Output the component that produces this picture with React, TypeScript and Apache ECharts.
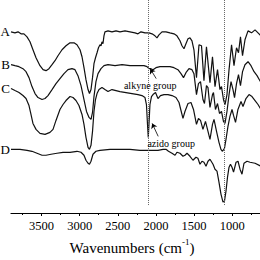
import React, { useEffect, useRef } from "react";
import * as echarts from "echarts";

const FONT = "Liberation Serif";

// Wavenumber (cm-1) vs transmittance (arbitrary units, curves offset)
const spectrumA: [number, number][] = [
  [3900, 182], [3848, 181], [3808, 182], [3769, 180], [3730, 180], [3690, 177], [3651, 172],
  [3612, 164], [3572, 156], [3520, 148], [3480, 144], [3441, 143], [3402, 145], [3362, 149],
  [3323, 153], [3284, 158], [3231, 164], [3179, 168], [3126, 171], [3074, 171], [3035, 169],
  [2995, 164], [2969, 157], [2943, 146], [2917, 134], [2890, 124], [2871, 120], [2851, 124],
  [2831, 136], [2812, 150], [2792, 156], [2772, 161], [2753, 166], [2733, 169], [2720, 168],
  [2707, 172], [2694, 170], [2681, 178], [2668, 182], [2628, 183], [2576, 182], [2523, 183],
  [2471, 182], [2405, 183], [2340, 182], [2274, 181], [2235, 180], [2196, 182], [2143, 181],
  [2091, 181], [2051, 180], [2012, 178], [1986, 176], [1960, 179], [1920, 182], [1868, 182],
  [1816, 181], [1763, 180], [1724, 178], [1684, 173], [1658, 168], [1632, 165], [1606, 170],
  [1579, 175], [1553, 176], [1527, 173], [1501, 164], [1468, 136], [1435, 169], [1402, 168],
  [1370, 133], [1337, 167], [1291, 131], [1258, 157], [1225, 127], [1192, 144], [1160, 124],
  [1140, 127], [1114, 114], [1094, 109], [1068, 119], [1041, 144], [1008, 169], [976, 148],
  [943, 166], [917, 161], [891, 177], [864, 158], [832, 174], [792, 183], [746, 181],
  [700, 184], [661, 181], [622, 178],
];

const spectrumB: [number, number][] = [
  [3900, 149], [3848, 148], [3795, 147], [3743, 145], [3703, 142], [3664, 136], [3625, 127],
  [3585, 120], [3546, 116], [3493, 114], [3454, 115], [3415, 118], [3362, 124], [3310, 130],
  [3258, 135], [3205, 140], [3153, 144], [3100, 145], [3061, 144], [3022, 138], [2982, 128],
  [2943, 114], [2910, 102], [2877, 96], [2851, 94], [2831, 101], [2812, 117], [2786, 132],
  [2759, 140], [2720, 145], [2681, 148], [2628, 149], [2536, 148], [2444, 149], [2340, 148],
  [2235, 148], [2156, 148], [2117, 147], [2091, 145], [2065, 145], [2038, 144], [1999, 146],
  [1946, 147], [1881, 147], [1816, 147], [1763, 146], [1711, 144], [1671, 140], [1638, 136],
  [1606, 141], [1566, 145], [1527, 144], [1501, 140], [1468, 119], [1442, 130], [1415, 132],
  [1383, 114], [1363, 110], [1337, 128], [1317, 126], [1291, 106], [1258, 119], [1245, 121],
  [1219, 104], [1192, 110], [1166, 100], [1140, 102], [1114, 92], [1094, 90], [1068, 102],
  [1041, 119], [1015, 132], [989, 124], [969, 116], [943, 130], [917, 139], [891, 128],
  [864, 142], [832, 149], [792, 152], [753, 148], [713, 142], [674, 138], [622, 131],
];

const spectrumC: [number, number][] = [
  [3900, 125], [3848, 123], [3795, 121], [3743, 118], [3703, 115], [3664, 108], [3638, 99],
  [3612, 90], [3572, 84], [3520, 80], [3454, 79], [3389, 81], [3349, 84], [3310, 93],
  [3258, 104], [3218, 109], [3179, 113], [3126, 117], [3087, 116], [3048, 113], [3009, 108],
  [2969, 99], [2943, 89], [2917, 76], [2890, 66], [2871, 64], [2851, 68], [2831, 82],
  [2812, 102], [2792, 114], [2772, 120], [2746, 124], [2707, 126], [2668, 124], [2628, 122],
  [2576, 124], [2523, 123], [2471, 122], [2392, 121], [2314, 120], [2235, 119], [2183, 118],
  [2143, 116], [2124, 109], [2110, 89], [2100, 76], [2091, 89], [2078, 109], [2058, 117],
  [2038, 119], [2005, 121], [1973, 115], [1940, 118], [1894, 119], [1842, 119], [1789, 118],
  [1737, 116], [1697, 111], [1671, 103], [1645, 95], [1619, 102], [1579, 110], [1540, 111],
  [1507, 104], [1468, 89], [1442, 95], [1415, 93], [1383, 84], [1350, 92], [1317, 82],
  [1291, 74], [1258, 89], [1238, 94], [1205, 82], [1173, 71], [1147, 64], [1127, 62],
  [1101, 65], [1081, 74], [1055, 87], [1029, 97], [1002, 104], [982, 98], [956, 91],
  [924, 104], [884, 112], [858, 107], [819, 115], [779, 119], [740, 117], [700, 113],
  [661, 109], [622, 104],
];

const spectrumD: [number, number][] = [
  [3900, 64], [3782, 64], [3690, 63], [3625, 62], [3559, 60], [3493, 58], [3441, 58],
  [3375, 59], [3297, 60], [3218, 61], [3126, 61], [3035, 62], [2982, 61], [2943, 58],
  [2917, 53], [2890, 50], [2871, 49], [2851, 52], [2825, 59], [2786, 62], [2733, 63],
  [2602, 64], [2471, 64], [2340, 64], [2209, 63], [2078, 63], [1973, 63], [1907, 64],
  [1868, 64], [1835, 62], [1789, 60], [1749, 58], [1724, 61], [1684, 60], [1645, 57],
  [1619, 58], [1592, 60], [1553, 57], [1514, 53], [1475, 56], [1449, 55], [1422, 49],
  [1396, 52], [1370, 51], [1343, 47], [1317, 52], [1291, 54], [1251, 49], [1225, 44],
  [1199, 42], [1173, 31], [1147, 19], [1120, 11], [1101, 12], [1081, 22], [1061, 36],
  [1041, 46], [1022, 49], [1002, 46], [982, 41], [949, 51], [923, 52], [897, 44],
  [871, 39], [845, 50], [805, 52], [766, 51], [700, 50], [622, 47],
];

const seriesNames = ["A", "B", "C", "D"];
const majorTicks = [1000, 1500, 2000, 2500, 3000, 3500];
const minorTicks = [750, 1250, 1750, 2250, 2750, 3250, 3750];
const markerLines = [2100, 1100];
const alkyneLabel = { text: "alkyne group", at: [2075, 128], arrow: [[1996, 135], [2075, 145]] };
const azidoLabel = { text: "azido group", at: [1800, 70], arrow: [[1970, 77], [2049, 90]] };

const X_MIN = 635;
const X_MAX = 3900;
const Y_MAX = 214;

export default function App() {
  const ref = useRef<HTMLDivElement>(null);
  useEffect(() => {
    if (!ref.current) return;
    const chart = echarts.init(ref.current, null, { renderer: "svg" });
    const spectra = [spectrumA, spectrumB, spectrumC, spectrumD];
    const lineColor = "#111";
    const textBase = { color: "#000", fontFamily: FONT };

    const series: any[] = spectra.map((data, i) => {
      const s: any = {
        name: seriesNames[i],
        type: "line",
        data,
        showSymbol: false,
        symbol: "none",
        silent: true,
        emphasis: { disabled: true },
        lineStyle: { color: lineColor, width: 1.2 },
        markPoint: {
          symbol: "circle",
          symbolSize: 0,
          silent: true,
          itemStyle: { color: "transparent" },
          data: [
            {
              coord: data[0],
              label: {
                show: true,
                position: "left",
                distance: 1,
                formatter: seriesNames[i],
                fontSize: 13,
                ...textBase,
              },
            },
          ],
        },
      };
      return s;
    });

    // annotations
    const annotate = (s: any, ann: any) => {
      s.markPoint.data.push({
        coord: ann.at,
        label: { show: true, position: "inside", formatter: ann.text, fontSize: 10, ...textBase },
      });
      s.markLine = {
        silent: true,
        symbol: ["none", "arrow"],
        symbolSize: 5,
        label: { show: false },
        emphasis: { disabled: true },
        lineStyle: { color: "#000", width: 0.8, type: "solid" },
        data: [[{ coord: ann.arrow[0] }, { coord: ann.arrow[1] }]],
      };
    };
    annotate(series[1], alkyneLabel);
    annotate(series[2], azidoLabel);

    series[0].markLine = {
      silent: true,
      symbol: ["none", "none"],
      label: { show: false },
      emphasis: { disabled: true },
      lineStyle: { color: "#666", width: 1, type: "dotted" },
      data: markerLines.map((w) => [{ coord: [w, 8] }, { coord: [w, Y_MAX] }]),
    };

    chart.setOption({
      animation: false,
      textStyle: { fontFamily: FONT },
      grid: { left: 11, right: 0, top: 0, bottom: 260 - Y_MAX },
      xAxis: [
        {
          type: "value",
          inverse: true,
          min: X_MIN,
          max: X_MAX,
          position: "bottom",
          splitLine: { show: false },
          axisLine: { show: true, onZero: false, lineStyle: { color: "#000", width: 1.2 } },
          axisTick: { show: true, inside: false, length: 3, customValues: majorTicks, lineStyle: { color: "#000", width: 1 } },
          minorTick: { show: false },
          axisLabel: {
            show: true,
            customValues: majorTicks,
            margin: 6,
            fontSize: 12.5,
            formatter: (v: number) => String(v),
            ...textBase,
          },
          name: "{a|Wavenumbers (cm}{b|-1}{a|)}",
          nameLocation: "middle",
          nameGap: 24,
          nameTextStyle: {
            ...textBase,
            padding: [0, 7, 0, 0],
            rich: {
              a: { fontSize: 15, lineHeight: 18, verticalAlign: "bottom", ...textBase },
              b: { fontSize: 9, lineHeight: 18, verticalAlign: "top", ...textBase },
            },
          },
        },
        {
          type: "value",
          inverse: true,
          min: X_MIN,
          max: X_MAX,
          position: "bottom",
          splitLine: { show: false },
          axisLine: { show: false, onZero: false },
          axisTick: { show: true, inside: false, length: 2, customValues: minorTicks, lineStyle: { color: "#000", width: 1 } },
          axisLabel: { show: false },
        },
      ],
      yAxis: { type: "value", min: 0, max: Y_MAX, show: false, splitLine: { show: false } },
      series,
    });
    return () => chart.dispose();
  }, []);
  return (
    <div
      ref={ref}
      style={{ position: "absolute", left: 0, top: 0, width: 260, height: 260, background: "#fff" }}
    />
  );
}
